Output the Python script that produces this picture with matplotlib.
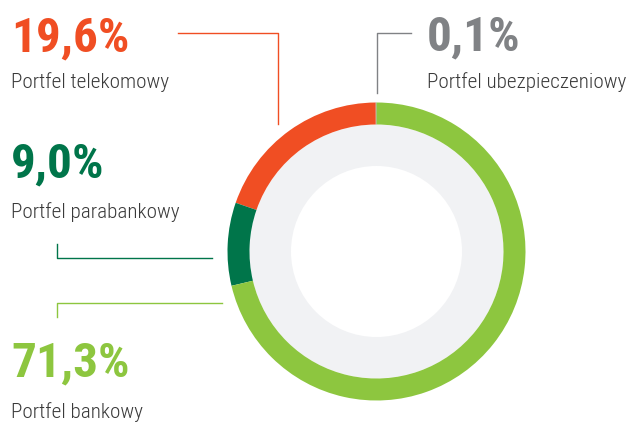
import matplotlib
matplotlib.use("Agg")
import matplotlib.pyplot as plt
from matplotlib.patches import Circle

# Data
categories = ["Portfel ubezpieczeniowy", "Portfel telekomowy", "Portfel parabankowy", "Portfel bankowy"]
values = [0.1, 19.6, 9.0, 71.3]
value_labels = ["0,1%", "19,6%", "9,0%", "71,3%"]
colors = ["#808285", "#f04e23", "#00754a", "#8dc63f"]

W, H = 632, 423
fig = plt.figure(figsize=(W / 100, H / 100), dpi=100)
ax = fig.add_axes([0, 0, 1, 1])

def Y(y):
    return H - y

cx, cy = 376.5, Y(251.5)
R, ring = 149, 22

# background discs
ax.add_patch(Circle((cx, cy), R - ring, facecolor="#f1f2f4", edgecolor="none", zorder=0))
ax.add_patch(Circle((cx, cy), 85.5, facecolor="white", edgecolor="none", zorder=1))

ax.pie(values, colors=colors, radius=R, center=(cx, cy), startangle=90,
       counterclock=True, wedgeprops=dict(width=ring, edgecolor="none", linewidth=0),
       frame=True)

ax.set_xlim(0, W)
ax.set_ylim(0, H)
ax.set_aspect("equal")
ax.axis("off")

fam = ["Roboto Condensed", "PT Sans Narrow", "DejaVu Sans"]
label_color = "#3a3a3a"
big_size = 35.5
lab_size = 15.2

# text blocks: (value index, x, big baseline, label baseline)
blocks = [
    (1, 11, 51, 88),
    (0, 427, 50, 88),
    (2, 11, 177, 218),
    (3, 11, 376, 418),
]
for i, x, yb, yl in blocks:
    ax.text(x, Y(yb), value_labels[i], color=colors[i], fontsize=big_size,
            fontweight="bold", family=fam, ha="left", va="baseline")
    ax.text(x, Y(yl), categories[i], color=label_color, fontsize=lab_size,
            fontweight="light", family=fam, ha="left", va="baseline")

# leader lines
lw = 1.0
ax.plot([178, 278, 278], [Y(33), Y(33), Y(124)], color=colors[1], lw=lw)
ax.plot([411, 377, 377], [Y(33), Y(33), Y(93)], color=colors[0], lw=lw)
ax.plot([57, 57, 212], [Y(244), Y(258), Y(258)], color=colors[2], lw=lw)
ax.plot([57, 57, 222], [Y(317), Y(303), Y(303)], color=colors[3], lw=lw)

fig.savefig("out.png", dpi=100)
